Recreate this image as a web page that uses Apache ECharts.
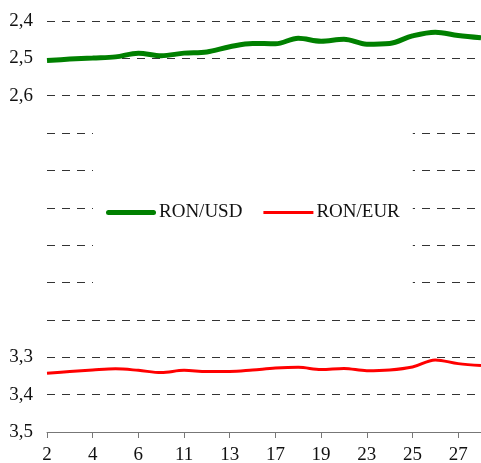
<!DOCTYPE html>
<html>
<head>
<meta charset="utf-8">
<script src="https://cdn.jsdelivr.net/npm/echarts@6/dist/echarts.min.js"></script>
<style>html,body{margin:0;padding:0;background:#fff}#c{width:481px;height:463px}</style>
</head>
<body>
<div id="c"></div>
<script>
const categories = ['2','3','4','5','6','10','11','12','13','16','17','18','19','20','23','24','25','26','27','30'];
const ronUsd = [2.506,2.502,2.499,2.496,2.486,2.493,2.486,2.483,2.469,2.460,2.461,2.446,2.454,2.449,2.462,2.460,2.440,2.430,2.439,2.445];
const ronEur = [3.343,3.338,3.334,3.331,3.335,3.341,3.335,3.338,3.338,3.334,3.329,3.327,3.333,3.330,3.336,3.334,3.326,3.307,3.317,3.322];
const yShownLabels = ['2,4','2,5','2,6','3,3','3,4','3,5'];

const font = 'Liberation Serif';
const chart = echarts.init(document.getElementById('c'), null, {renderer: 'canvas'});
chart.setOption({
  animation: false,
  backgroundColor: '#fff',
  grid: {left: 47, right: 0, top: 21, bottom: 31, containLabel: false, outerBoundsMode: 'none'},
  legend: {
    data: [
      {name: 'RON/USD', icon: 'path://M2.5,0 L47.5,0 A2.5,2.5 0 0 1 47.5,5 L2.5,5 A2.5,2.5 0 0 1 2.5,0 Z'},
      {name: 'RON/EUR', icon: 'path://M0,0 L48,0 L48,3 L0,3 Z'}
    ],
    left: 93, top: 125,
    padding: [78, 13, 78, 13],
    backgroundColor: '#fff',
    itemWidth: 50, itemHeight: 14, itemGap: 21,
    itemStyle: {borderWidth: 0},
    textStyle: {fontFamily: font, fontSize: 19, color: '#111', padding: [0, 0, 0, -2]}
  },
  xAxis: {
    type: 'category',
    data: categories,
    boundaryGap: false,
    axisLine: {lineStyle: {color: '#777', width: 1}},
    axisTick: {interval: 1, length: 6, lineStyle: {color: '#777'}},
    axisLabel: {interval: 1, margin: 14, fontFamily: font, fontSize: 19, color: '#111'},
    splitLine: {show: false}
  },
  yAxis: {
    type: 'value',
    inverse: true,
    min: 2.4, max: 3.5, interval: 0.1,
    axisLine: {show: false},
    axisTick: {show: false},
    axisLabel: {
      margin: 14, fontFamily: font, fontSize: 19, color: '#111',
      formatter: function (v) {
        const s = v.toFixed(1).replace('.', ',');
        return yShownLabels.indexOf(s) >= 0 ? s : '';
      }
    },
    splitLine: {lineStyle: {color: '#333', width: 1, type: [8, 7]}}
  },
  series: [
    {
      name: 'RON/USD', type: 'line', data: ronUsd, smooth: 0.35,
      symbol: 'none', lineStyle: {color: '#008000', width: 5}, itemStyle: {color: '#008000'}
    },
    {
      name: 'RON/EUR', type: 'line', data: ronEur, smooth: 0.35,
      symbol: 'none', lineStyle: {color: '#ff0000', width: 3}, itemStyle: {color: '#ff0000'}
    }
  ]
});
</script>
</body>
</html>
